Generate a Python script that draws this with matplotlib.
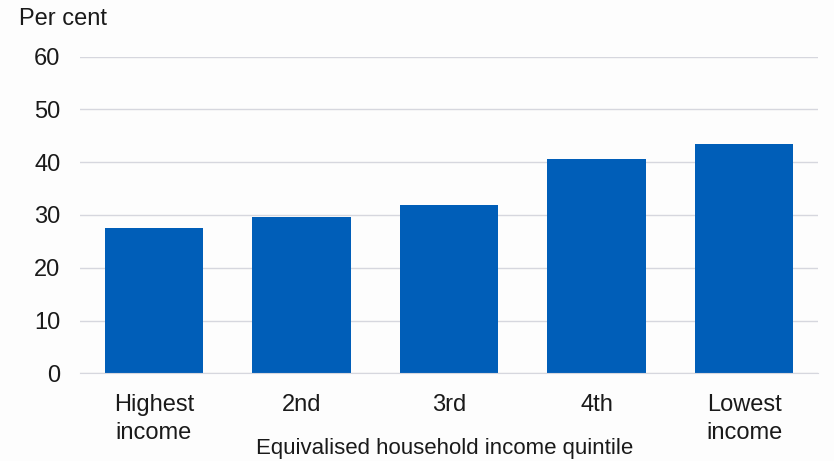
import matplotlib.pyplot as plt

plt.rcParams['font.family'] = ['Liberation Sans', 'DejaVu Sans']

categories = ['Highest\nincome', '2nd', '3rd', '4th', 'Lowest\nincome']
values = [27.5, 29.6, 31.9, 40.6, 43.4]
yticks = [0, 10, 20, 30, 40, 50, 60]

fs = 17
fig = plt.figure(figsize=(8.34, 4.61), dpi=100, facecolor='#fdfdfd')
ax = fig.add_axes([80 / 834, 1 - 373.3 / 461, 738 / 834, 316.6 / 461])
ax.set_facecolor('#fdfdfd')

x = range(len(categories))
ax.bar(x, values, width=0.667, color='#005EB8', zorder=3)

ax.set_ylim(0, 60)
ax.set_xlim(-0.5, len(categories) - 0.5)
ax.set_yticks(yticks)
ax.set_xticks(list(x))
ax.set_xticklabels(categories, fontsize=fs, color='#1a1a1a', linespacing=1.34)
ax.tick_params(axis='y', labelsize=fs, labelcolor='#1a1a1a', length=0, pad=14)
ax.tick_params(axis='x', length=0, pad=15)

ax.grid(axis='y', color='#d6d7de', linewidth=1, zorder=0)
for s in ['top', 'right', 'left']:
    ax.spines[s].set_visible(False)
ax.spines['bottom'].set_color('#d6d7de')
ax.spines['bottom'].set_zorder(4)

fig.text(19 / 834, 1 - 19 / 461, 'Per cent', fontsize=fs, color='#1a1a1a',
         va='center', ha='left')
fig.text(445 / 834, 1 - 448 / 461, 'Equivalised household income quintile',
         fontsize=16, color='#1a1a1a', va='center', ha='center')

fig.savefig('out.png', dpi=100, facecolor=fig.get_facecolor())
